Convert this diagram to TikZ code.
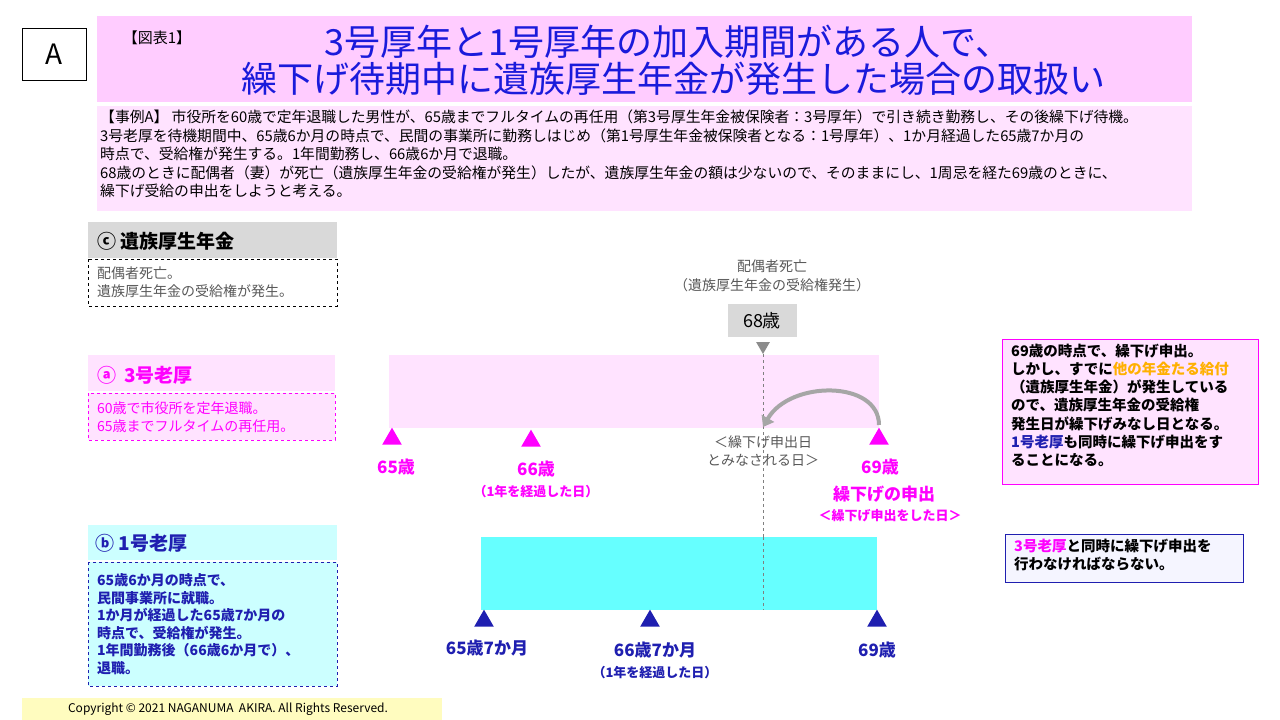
\documentclass[tikz,border=0pt]{standalone}
\usepackage{fontspec}
\usetikzlibrary{arrows.meta,shapes.geometric}
\setmainfont{Noto Sans CJK JP}
\newcommand\fsz[1]{\fontsize{#1}{\dimexpr#1pt*5/4\relax}\selectfont}
\definecolor{mag}{HTML}{FF00FF}
\definecolor{navy}{HTML}{1F1FB0}
\definecolor{lpink}{HTML}{FFE3FF}
\definecolor{tpink}{HTML}{FFCCFF}
\definecolor{lcyan}{HTML}{CCFFFF}
\definecolor{cyanbar}{HTML}{66FFFF}
\definecolor{gbox}{HTML}{D9D9D9}
\definecolor{gtext}{HTML}{595959}
\definecolor{orng}{HTML}{FFB000}
\definecolor{ttl}{HTML}{1A1ADB}
\tikzset{
  fs/.style={font=\fsz{#1}},
  fb/.style={font={\fsz{#1}\bfseries}},
  tri/.style={isosceles triangle,isosceles triangle apex angle=60,shape border rotate=90,inner sep=0pt,minimum height=17pt,fill=#1},
  lab/.style={inner sep=0pt,align=center},
}
\begin{document}
\begin{tikzpicture}[x=1pt,y=-1pt]
\useasboundingbox (0,0) rectangle (1280,720);
\fill[white] (0,0) rectangle (1280,720);
% A box
\draw (22,28) rectangle (86,80);
\node[fs=28] (A) at (54,54) {A};
% title
\fill[tpink] (97,16) rectangle (1192,102);
\node[fs=15,lab] (zh) at (157,38) {【図表1】};
\node[fs=36,lab,text=ttl] (t1) at (668,42) {3号厚年と1号厚年の加入期間がある人で、};
\node[fs=36,lab,text=ttl] (t2) at (673,79) {繰下げ待期中に遺族厚生年金が発生した場合の取扱い};
% description
\fill[lpink] (97,106) rectangle (1192,211);
\node[lab,fs=14.8,anchor=north west,align=left] (desc) at (100,110) {%
【事例A】 市役所を60歳で定年退職した男性が、65歳までフルタイムの再任用（第3号厚生年金被保険者：3号厚年）で引き続き勤務し、その後繰下げ待機。\\
3号老厚を待機期間中、65歳6か月の時点で、民間の事業所に勤務しはじめ（第1号厚生年金被保険者となる：1号厚年）、1か月経過した65歳7か月の\\
時点で、受給権が発生する。1年間勤務し、66歳6か月で退職。\\
68歳のときに配偶者（妻）が死亡（遺族厚生年金の受給権が発生）したが、遺族厚生年金の額は少ないので、そのままにし、1周忌を経た69歳のときに、\\
繰下げ受給の申出をしようと考える。};
% c
\fill[gbox] (88,222) rectangle (337,258);
\node[fb=19,anchor=west] (c) at (94,241) {ⓒ 遺族厚生年金};
\draw[dashed] (88,259) rectangle (337,306);
\node[lab,fs=14,anchor=west,align=left,text=gtext] (ct) at (97,282) {配偶者死亡。\\遺族厚生年金の受給権が発生。};
% a
\fill[lpink] (88,355) rectangle (335,391);
\node[fb=19,anchor=west,text=mag] (a) at (94,375) {ⓐ\, 3号老厚};
\draw[dashed,mag,fill=lpink] (88,393) rectangle (335,440);
\node[lab,fs=14,anchor=west,align=left,text=mag] (at) at (97,417) {60歳で市役所を定年退職。\\65歳までフルタイムの再任用。};
\fill[lpink] (389,355) rectangle (879,428);
\node[tri=mag] (m1) at (392,439) {};
\node[tri=mag] (m2) at (531,441) {};
\node[tri=mag] (m3) at (879,439) {};
\node[fb=17,text=mag,lab] (l1) at (396,467) {65歳};
\node[fb=17,text=mag,lab] (l2) at (536,469) {66歳};
\node[fb=13,text=mag,lab] (l2b) at (536,492) {（1年を経過した日）};
\node[fb=17,text=mag,lab] (l3) at (880,467) {69歳};
\node[fb=17,text=mag,lab] (l3b) at (884,494) {繰下げの申出};
\node[fb=13,text=mag,lab] (l3c) at (890,516) {＜繰下げ申出をした日＞};
% 68
\node[fs=14,text=gtext,lab] (d1) at (772,266) {配偶者死亡};
\node[fs=14,text=gtext,lab] (d2) at (772,285) {（遺族厚生年金の受給権発生）};
\fill[gbox] (728,304) rectangle (797,337);
\node[fs=18,lab] (s68) at (762,321) {68歳};
\node[tri=gray!90,shape border rotate=270,minimum height=12pt] (g) at (763,346) {};
\draw[dashed,gray,thick] (g.apex) -- (763,610);
\coordinate (arrS) at (879,425);
\coordinate (arrE) at (763,427);
\draw[gray!70,line width=4pt,-{Triangle[width=14pt,length=10pt]}] (arrS) .. controls (879,380) and (790,380) .. (arrE);
\node[fs=14,text=gtext,lab] (mn) at (763,451) {＜繰下げ申出日\\とみなされる日＞};
% b
\fill[lcyan] (88,525) rectangle (337,560);
\node[fb=19,anchor=west,text=navy] (b) at (92,543) {ⓑ 1号老厚};
\draw[dashed,navy,fill=lcyan] (88,562) rectangle (337,686);
\node[lab,fb=14,anchor=west,align=left,text=navy] (bt) at (97,624) {65歳6か月の時点で、\\民間事業所に就職。\\1か月が経過した65歳7か月の\\時点で、受給権が発生。\\1年間勤務後（66歳6か月で）、\\退職。};
\fill[cyanbar] (481,537) rectangle (877,610);
\draw[dashed,gray,thick] (763,537) -- (763,610);
\node[tri=navy] (n1) at (484,621) {};
\node[tri=navy] (n2) at (650,621) {};
\node[tri=navy] (n3) at (877,621) {};
\node[fb=17,text=navy,lab] (k1) at (487,648) {65歳7か月};
\node[fb=17,text=navy,lab] (k2) at (655,650) {66歳7か月};
\node[fb=13,text=navy,lab] (k2b) at (655,673) {（1年を経過した日）};
\node[fb=17,text=navy,lab] (k3) at (877,650) {69歳};
% right boxes
\draw[mag,fill=lpink] (1002,339) rectangle (1258,484);
\node[lab,fb=14.5,anchor=north west,align=left] (r1) at (1011,344) {69歳の時点で、繰下げ申出。\\しかし、すでに{\color{orng}他の年金たる給付}\\（遺族厚生年金）が発生している\\ので、遺族厚生年金の受給権\\発生日が繰下げみなし日となる。\\{\color{navy}1号老厚}も同時に繰下げ申出をす\\ることになる。};
\draw[navy,fill=blue!4] (1005,534) rectangle (1243,582);
\node[lab,fb=14.5,anchor=north west,align=left] (r2) at (1014,539) {{\color{mag}3号老厚}と同時に繰下げ申出を\\行わなければならない。};
% copyright
\fill[yellow!25] (22,698) rectangle (442,720);
\node[fs=12,lab] (cp) at (228,709) {Copyright © 2021 NAGANUMA\ \ AKIRA. All Rights Reserved.};
\end{tikzpicture}
\end{document}
